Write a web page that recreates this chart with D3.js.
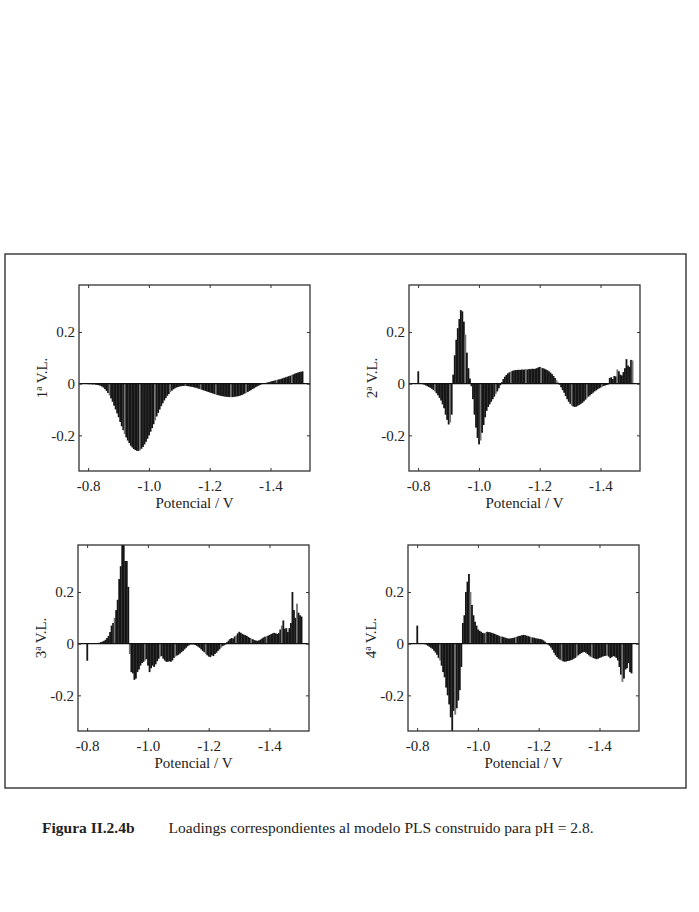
<!DOCTYPE html>
<html>
<head>
<meta charset="utf-8">
<script src="https://cdn.jsdelivr.net/npm/d3@7"></script>
<style>
  body { margin: 0; background: #fff; }
  text { font-family: "Liberation Serif", "Times New Roman", serif; fill: #222; }
</style>
</head>
<body>
<svg id="fig" width="699" height="912"></svg>
<script>
// ##################################
// Loadings PLS, pH = 2.8 (4 panels)
// ##################################

// Potential grid: first point and sampling step (V)
const vStart = -0.800;
const vStep = 0.005;

// Loadings, one value per potential
const loadings1 = [
  -0.002,-0.002,-0.002,-0.003,-0.003,-0.004,-0.005,-0.006,-0.008,-0.011,
  -0.015,-0.021,-0.028,-0.036,-0.045,-0.057,-0.07,-0.085,-0.10,-0.115,
  -0.13,-0.148,-0.165,-0.18,-0.195,-0.208,-0.22,-0.23,-0.24,-0.247,
  -0.253,-0.257,-0.26,-0.26,-0.258,-0.252,-0.245,-0.235,-0.225,-0.213,
  -0.2,-0.186,-0.172,-0.157,-0.142,-0.127,-0.113,-0.1,-0.087,-0.076,
  -0.065,-0.056,-0.047,-0.04,-0.033,-0.027,-0.022,-0.018,-0.015,-0.013,
  -0.011,-0.01,-0.009,-0.009,-0.009,-0.009,-0.01,-0.011,-0.012,-0.013,
  -0.015,-0.016,-0.018,-0.02,-0.022,-0.024,-0.026,-0.028,-0.03,-0.032,
  -0.034,-0.036,-0.038,-0.04,-0.042,-0.044,-0.045,-0.047,-0.048,-0.049,
  -0.05,-0.051,-0.051,-0.052,-0.052,-0.052,-0.051,-0.05,-0.049,-0.048,
  -0.046,-0.044,-0.041,-0.038,-0.035,-0.032,-0.028,-0.025,-0.021,-0.018,
  -0.014,-0.011,-0.008,-0.005,-0.003,-0.001,0.001,0.003,0.005,0.006,
  0.008,0.01,0.011,0.013,0.014,0.016,0.017,0.019,0.021,0.023,
  0.025,0.027,0.029,0.031,0.034,0.036,0.039,0.041,0.043,0.045,
  0.046,0.048
];

const loadings2 = [
  0.048,0,0,-0.002,-0.004,-0.007,-0.01,-0.013,-0.016,-0.02,
  -0.025,-0.03,-0.037,-0.045,-0.055,-0.065,-0.08,-0.095,-0.12,-0.14,
  -0.158,-0.15,-0.12,0.035,0.11,0.17,0.215,0.25,0.285,0.28,
  0.24,0.19,0.12,0.06,0.02,-0.01,-0.06,-0.12,-0.17,-0.21,
  -0.235,-0.22,-0.19,-0.16,-0.13,-0.105,-0.09,-0.08,-0.07,-0.06,
  -0.05,-0.04,-0.03,-0.018,-0.006,0.006,0.018,0.027,0.034,0.04,
  0.044,0.047,0.05,0.051,0.053,0.053,0.054,0.053,0.055,0.054,
  0.055,0.056,0.055,0.057,0.056,0.058,0.057,0.058,0.06,0.063,
  0.065,0.062,0.06,0.058,0.055,0.052,0.048,0.043,0.037,0.03,
  0.022,0.013,0.004,-0.004,-0.014,-0.025,-0.035,-0.048,-0.06,-0.07,
  -0.078,-0.085,-0.088,-0.09,-0.089,-0.085,-0.082,-0.078,-0.074,-0.068,
  -0.062,-0.056,-0.05,-0.045,-0.04,-0.035,-0.03,-0.026,-0.022,-0.018,
  -0.015,-0.012,-0.009,-0.007,-0.005,-0.003,0.022,0.025,0.018,0.03,
  0.028,0.055,0.048,0.035,0.032,0.045,0.06,0.095,0.07,0.065,
  0.092,0.09
];

const loadings3 = [
  -0.066,0,0,0,0.001,0.001,0.002,0.003,0.004,0.006,
  0.008,0.011,0.015,0.022,0.03,0.045,0.07,0.08,0.1,0.13,
  0.17,0.25,0.3,0.4,0.4,0.32,0.32,0.22,-0.04,-0.11,
  -0.115,-0.14,-0.135,-0.11,-0.1,-0.085,-0.075,-0.07,-0.065,-0.06,
  -0.085,-0.11,-0.095,-0.085,-0.09,-0.08,-0.068,-0.058,-0.05,-0.048,
  -0.058,-0.065,-0.07,-0.07,-0.068,-0.07,-0.065,-0.055,-0.05,-0.046,
  -0.043,-0.038,-0.033,-0.028,-0.022,-0.016,-0.01,-0.006,-0.004,-0.003,
  -0.003,-0.005,-0.008,-0.012,-0.016,-0.022,-0.028,-0.033,-0.04,-0.045,
  -0.05,-0.052,-0.045,-0.048,-0.04,-0.035,-0.028,-0.022,-0.016,-0.01,
  -0.006,-0.003,0.006,0.012,0.018,0.022,0.02,0.028,0.032,0.04,
  0.046,0.042,0.038,0.035,0.033,0.03,0.026,0.022,0.02,0.017,
  0.014,0.012,0.011,0.013,0.016,0.02,0.024,0.027,0.029,0.031,
  0.034,0.037,0.04,0.042,0.04,0.038,0.042,0.055,0.07,0.09,
  0.058,0.06,0.045,0.06,0.08,0.2,0.13,0.1,0.155,0.12,
  0.11,0.105
];

const loadings4 = [
  0.07,0,0,0,-0.001,-0.002,-0.004,-0.008,-0.012,-0.016,
  -0.02,-0.027,-0.034,-0.043,-0.055,-0.065,-0.085,-0.11,-0.13,-0.17,
  -0.2,-0.235,-0.285,-0.34,-0.26,-0.275,-0.25,-0.22,-0.18,-0.09,
  0.08,0.11,0.2,0.24,0.27,0.2,0.15,0.11,0.085,0.07,
  0.055,0.05,0.046,0.042,0.04,0.043,0.046,0.045,0.044,0.042,
  0.04,0.038,0.035,0.033,0.03,0.028,0.027,0.025,0.023,0.021,
  0.02,0.02,0.021,0.022,0.024,0.026,0.028,0.03,0.031,0.033,
  0.034,0.033,0.031,0.029,0.027,0.025,0.024,0.023,0.021,0.02,
  0.019,0.018,0.016,0.013,0.008,0.003,-0.003,-0.008,-0.015,-0.024,
  -0.035,-0.045,-0.052,-0.058,-0.062,-0.066,-0.068,-0.07,-0.069,-0.067,
  -0.066,-0.064,-0.062,-0.058,-0.055,-0.05,-0.045,-0.04,-0.036,-0.033,
  -0.032,-0.035,-0.04,-0.045,-0.05,-0.053,-0.056,-0.058,-0.06,-0.058,
  -0.055,-0.053,-0.05,-0.048,-0.047,-0.046,-0.05,-0.056,-0.052,-0.048,
  -0.05,-0.055,-0.065,-0.09,-0.12,-0.148,-0.135,-0.1,-0.095,-0.075,
  -0.11,-0.115
];

const panelLabels = ["1ª V.L.", "2ª V.L.", "3ª V.L.", "4ª V.L."];
const xTicks = [-0.8, -1.0, -1.2, -1.4];
const yTicks = [0.2, 0, -0.2];
const xTitle = "Potencial / V";
const captionBold = "Figura II.2.4b";
const captionText = "Loadings correspondientes al modelo PLS construido para pH = 2.8.";

const allLoadings = [loadings1, loadings2, loadings3, loadings4];

// Layout
const panelW = 231, panelH = 186;
const panelPos = [[79, 285], [409, 285], [78, 545], [408, 545]];
const tickLen = 3;

const svg = d3.select("#fig");

// outer frame
svg.append("rect")
    .attr("x", 5).attr("y", 254)
    .attr("width", 681).attr("height", 534)
    .attr("fill", "none")
    .attr("stroke", "#333")
    .attr("stroke-width", 1.4);

const tickFmt = d => d === 0 ? "0" : d.toFixed(1);

allLoadings.forEach((vals, p) => {
    const [px, py] = panelPos[p];
    const g = svg.append("g").attr("transform", "translate(" + px + "," + py + ")");

    const xScale = d3.scaleLinear().domain([-0.77, -1.53]).range([0, panelW]);
    const yScale = d3.scaleLinear().domain([-0.338, 0.382]).range([panelH, 0]);

    const data = vals.map((v, i) => ({ i: i, pot: vStart - vStep * i, val: v }));

    // clip to frame
    g.append("clipPath").attr("id", "clip" + p)
        .append("rect").attr("width", panelW).attr("height", panelH);

    // bars (a few lighter stripes, like the scanned print)
    g.append("g")
        .attr("clip-path", "url(#clip" + p + ")")
        .selectAll("rect")
        .data(data)
        .join("rect")
            .attr("x", d => xScale(d.pot + vStep / 2))
            .attr("width", d => xScale(d.pot - vStep / 2) - xScale(d.pot + vStep / 2) + 0.3)
            .attr("y", d => Math.min(yScale(d.val), yScale(0)))
            .attr("height", d => Math.abs(yScale(d.val) - yScale(0)))
            .attr("fill", d => ((d.i + p * 3) % 10 === 4) ? "#747474" : "#161616");

    // zero line
    g.append("line")
        .attr("x1", 0).attr("x2", panelW)
        .attr("y1", yScale(0)).attr("y2", yScale(0))
        .attr("stroke", "#111").attr("stroke-width", 1.3);

    // axes with inward ticks on all sides
    const axisStyle = sel => {
        sel.select(".domain").remove();
        sel.selectAll(".tick line").attr("stroke", "#333");
        sel.selectAll(".tick text")
            .style("font-family", "'Liberation Serif', 'Times New Roman', serif")
            .style("font-size", "15px")
            .attr("fill", "#222");
    };

    g.append("g")
        .attr("transform", "translate(0," + panelH + ")")
        .call(d3.axisBottom(xScale).tickValues(xTicks).tickFormat(tickFmt).tickSizeInner(-tickLen).tickPadding(9))
        .call(axisStyle);
    g.append("g")
        .call(d3.axisTop(xScale).tickValues(xTicks).tickSizeInner(-tickLen).tickFormat(""))
        .call(axisStyle);
    g.append("g")
        .call(d3.axisLeft(yScale).tickValues(yTicks).tickFormat(tickFmt).tickSizeInner(-tickLen).tickPadding(4))
        .call(axisStyle);
    g.append("g")
        .attr("transform", "translate(" + panelW + ",0)")
        .call(d3.axisRight(yScale).tickValues(yTicks).tickSizeInner(-tickLen).tickFormat(""))
        .call(axisStyle);

    // frame
    g.append("rect")
        .attr("width", panelW).attr("height", panelH)
        .attr("fill", "none")
        .attr("stroke", "#333")
        .attr("stroke-width", 1.3);

    // x title
    g.append("text")
        .attr("x", panelW / 2)
        .attr("y", panelH + 37)
        .attr("text-anchor", "middle")
        .style("font-size", "15px")
        .text(xTitle);

    // y title
    g.append("text")
        .attr("transform", "translate(-32," + (panelH / 2) + ") rotate(-90)")
        .attr("text-anchor", "middle")
        .style("font-size", "15px")
        .text(panelLabels[p]);
});

// caption
const cap = svg.append("text")
    .attr("x", 42)
    .attr("y", 833)
    .style("font-size", "15.5px");
cap.append("tspan").attr("font-weight", "bold").text(captionBold);
cap.append("tspan").attr("dx", 34).text(captionText);
</script>
</body>
</html>
